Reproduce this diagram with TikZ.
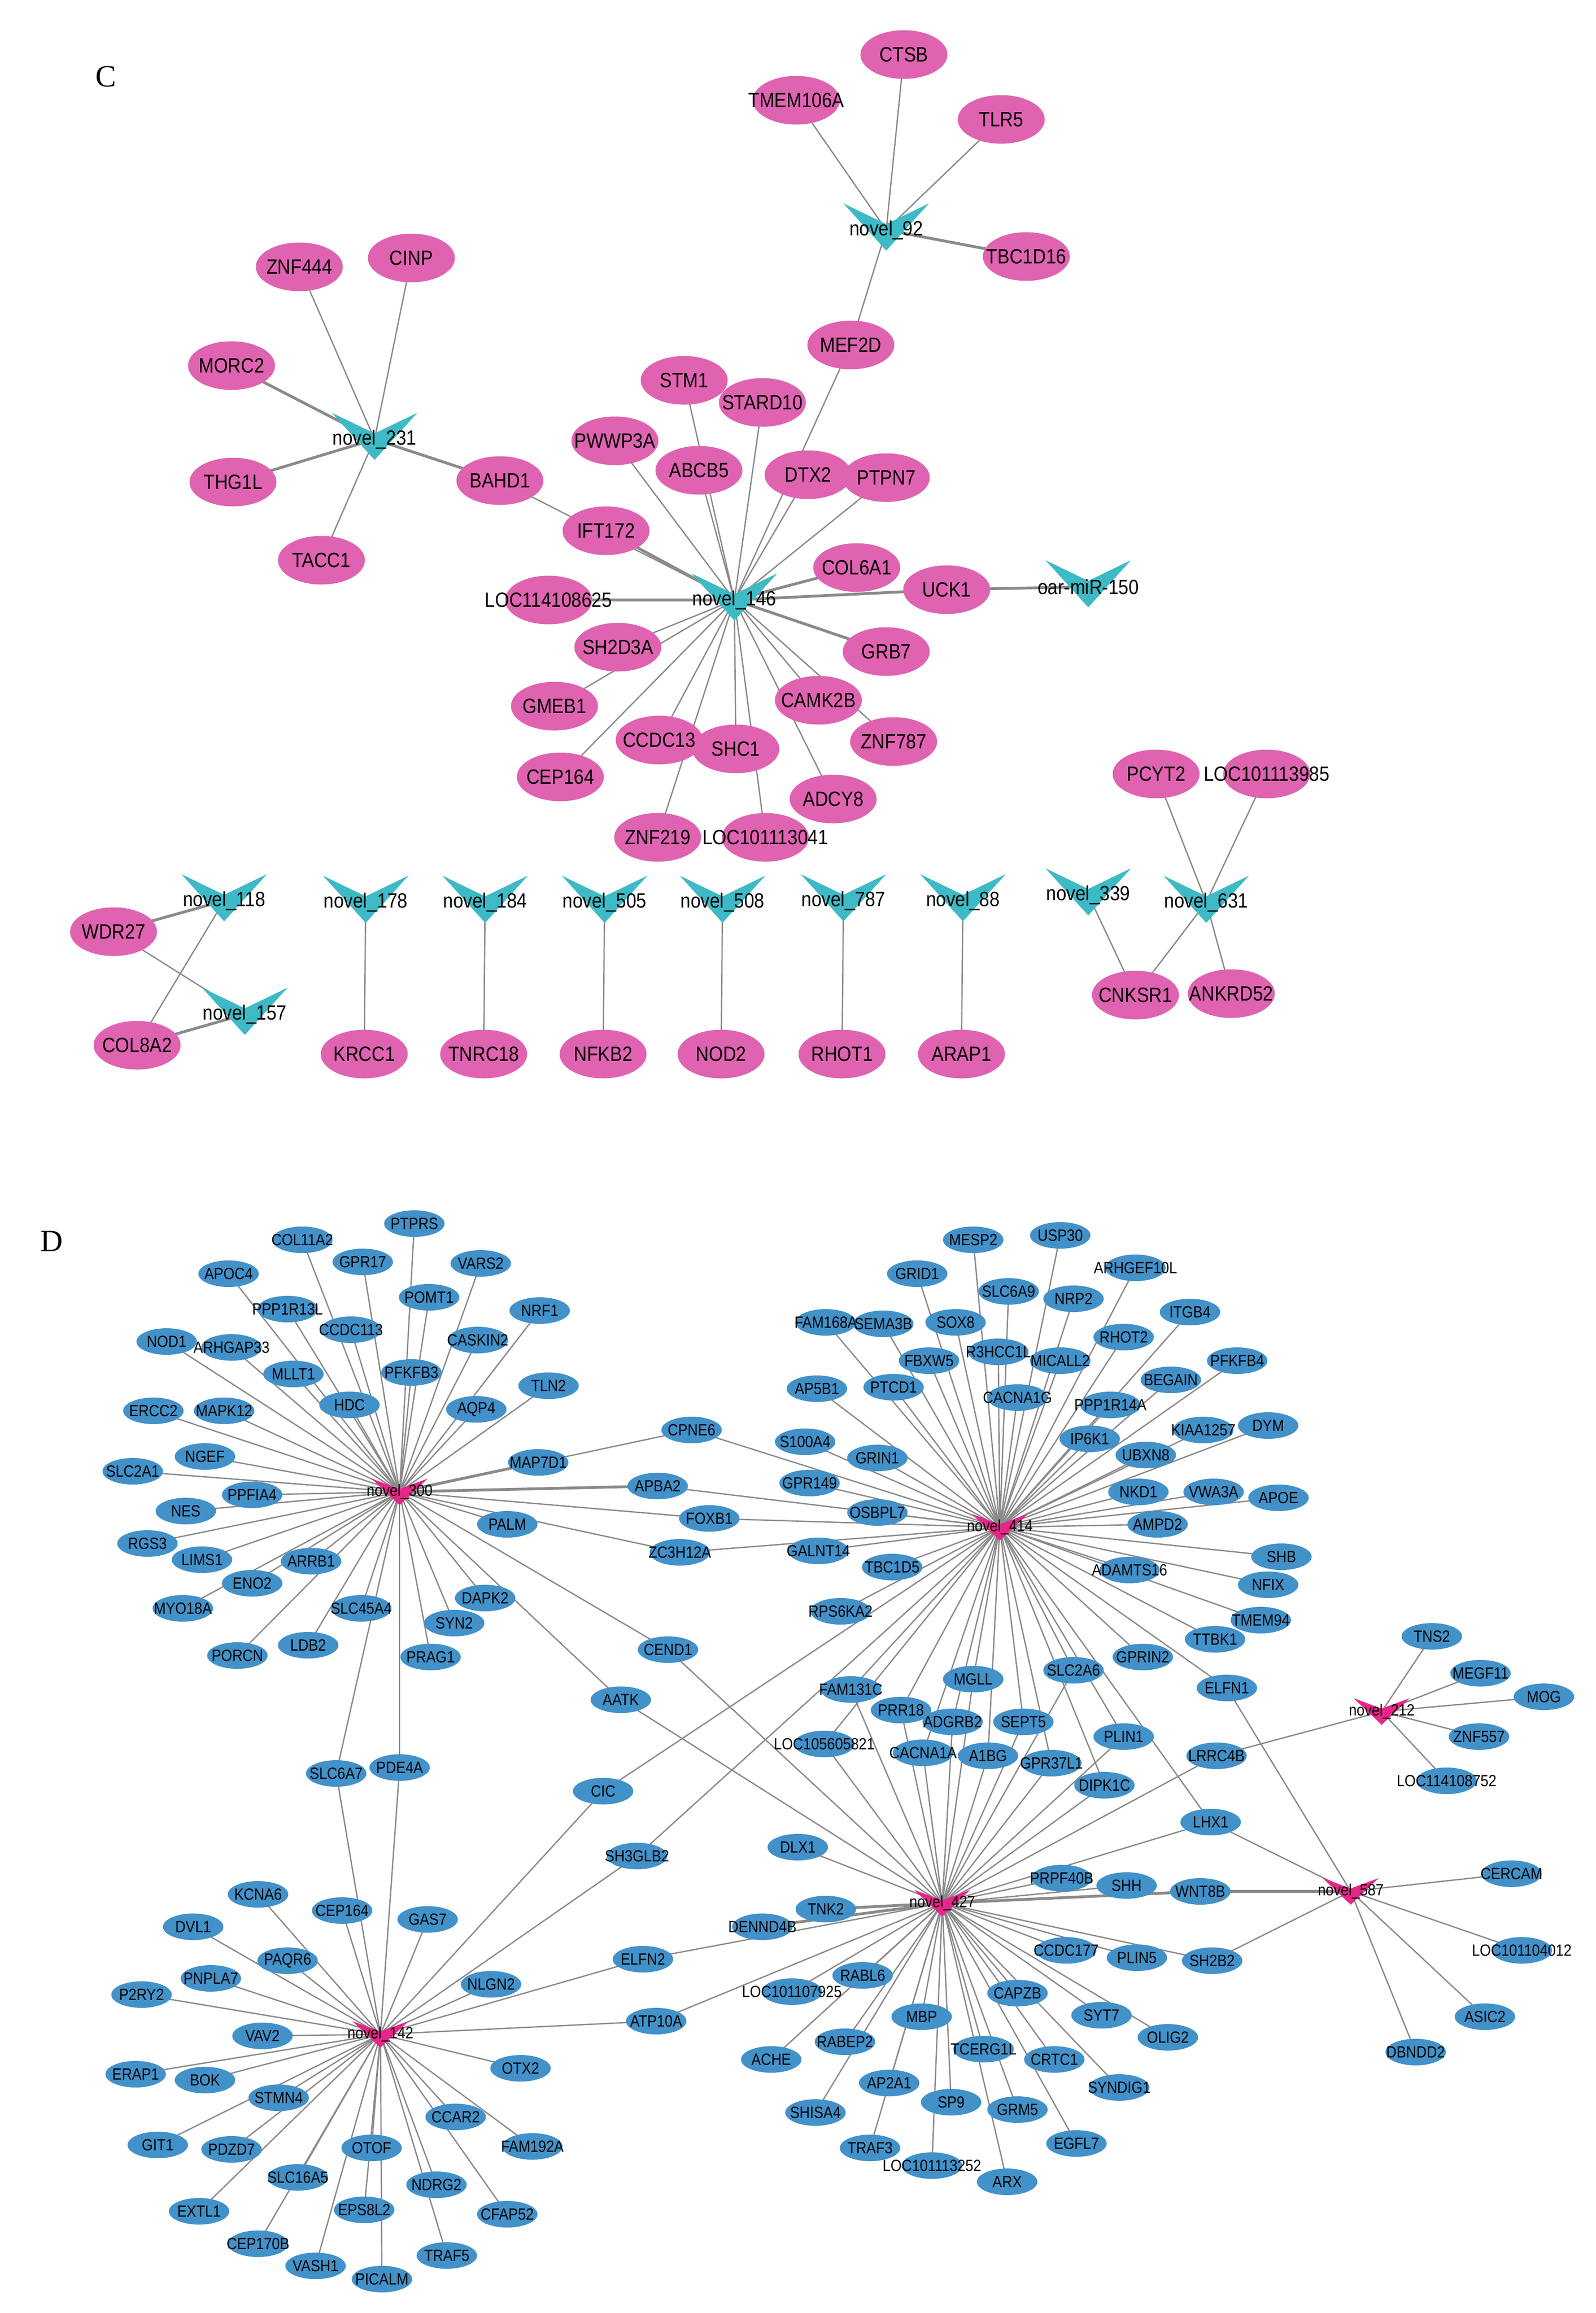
\documentclass[tikz,border=0pt]{standalone}
\usepackage{fontspec}
\newfontfamily\genefont[FakeStretch=0.88]{Liberation Sans}
\newfontfamily\panelfont{Liberation Serif}
\usetikzlibrary{shapes.geometric}
\pgfdeclarelayer{bg}
\pgfsetlayers{bg,main}

\definecolor{pinkC}{RGB}{223,99,176}
\definecolor{cyanC}{RGB}{62,186,198}
\definecolor{blueD}{RGB}{66,145,201}
\definecolor{magD}{RGB}{230,38,137}
\definecolor{edgegray}{RGB}{138,138,138}

\tikzset{
  geneC/.style={ellipse, fill=pinkC, minimum width=59pt, minimum height=33pt, inner sep=0pt},
  geneD/.style={ellipse, fill=blueD, minimum width=41pt, minimum height=18pt, inner sep=0pt},
  textC/.style={font=\genefont\fontsize{14}{14}\selectfont, inner sep=0pt},
  textD/.style={font=\genefont\fontsize{11}{11}\selectfont, inner sep=0pt},
  link/.style={draw=edgegray, line width=0.9pt},
  boldlink/.style={draw=edgegray, line width=1.9pt},
  panel/.style={font=\panelfont\fontsize{21}{21}\selectfont}
}

\def\genesC{ctsb/613/37/CTSB, tmem/540/68/TMEM106A, tlr5/679/81/TLR5, tbc1d16/696/174/TBC1D16,
  mef2d/577/234/MEF2D, znf444/203/181/ZNF444, cinp/279/175/CINP, morc2/157/248/MORC2,
  thg1l/158/327/THG1L, tacc1/218/380/TACC1, bahd1/339/326/BAHD1, stm1/464/258/STM1,
  stard10/517/273/STARD10, pwwp3a/417/299/PWWP3A, abcb5/474/319/ABCB5, dtx2/548/322/DTX2,
  ptpn7/601/324/PTPN7, ift172/411/360/IFT172, col6a1/581/385/COL6A1, uck1/642/400/UCK1,
  loc625/372/407/LOC114108625, sh2d3a/419/439/SH2D3A, grb7/601/442/GRB7, gmeb1/376/479/GMEB1,
  camk2b/555/475/CAMK2B, znf787/606/503/ZNF787, ccdc13/447/502/CCDC13, shc1/499/508/SHC1,
  cep164/380/527/CEP164, adcy8/565/542/ADCY8, znf219/446/568/ZNF219, loc041/519/568/LOC101113041,
  pcyt2/784/525/PCYT2, loc985/859/525/LOC101113985, cnksr1/770/675/CNKSR1, ankrd52/835/674/ANKRD52,
  wdr27/77/632/WDR27, col8a2/93/709/COL8A2, krcc1/247/715/KRCC1, tnrc18/328/715/TNRC18,
  nfkb2/409/715/NFKB2, nod2/489/715/NOD2, rhot1/571/715/RHOT1, arap1/652/715/ARAP1}

\def\hubsC{n92/601/156/novel\_92, n231/254/298/novel\_231, n146/498/407/novel\_146,
  mir150/738/398/oar-miR-150, n118/152/611/novel\_118, n157/166/688/novel\_157,
  n178/248/612/novel\_178, n184/329/612/novel\_184, n505/410/612/novel\_505,
  n508/490/612/novel\_508, n787/572/611/novel\_787, n88/653/611/novel\_88,
  n339/738/607/novel\_339, n631/818/612/novel\_631}

\def\genesD{ptprs/281/830/PTPRS, col11a2/205/841/COL11A2, gpr17/246/856/GPR17, apoc4/155/864/APOC4,
  vars2/326/857/VARS2, pomt1/291/880/POMT1, nrf1/366/889/NRF1, ppp1r13l/195/888/PPP1R13L,
  ccdc113/238/902/CCDC113, nod1/113/910/NOD1, arhgap33/157/914/ARHGAP33, caskin2/324/909/CASKIN2,
  mllt1/199/932/MLLT1, pfkfb3/279/931/PFKFB3, tln2/372/940/TLN2, hdc/237/953/HDC,
  aqp4/323/956/AQP4, ercc2/104/957/ERCC2, mapk12/152/957/MAPK12, ngef/139/988/NGEF,
  map7d1/365/992/MAP7D1, slc2a1/90/998/SLC2A1, ppfia4/171/1014/PPFIA4, nes/126/1025/NES,
  palm/344/1034/PALM, rgs3/100/1047/RGS3, lims1/137/1058/LIMS1, arrb1/211/1059/ARRB1,
  eno2/171/1074/ENO2, dapk2/329/1084/DAPK2, myo18a/124/1091/MYO18A, slc45a4/245/1091/SLC45A4,
  syn2/308/1101/SYN2, ldb2/209/1116/LDB2, porcn/161/1123/PORCN, prag1/292/1124/PRAG1,
  cpne6/469/970/CPNE6, apba2/446/1008/APBA2, foxb1/481/1030/FOXB1, zc3h12a/461/1053/ZC3H12A,
  cend1/453/1119/CEND1, aatk/421/1153/AATK, slc6a7/228/1203/SLC6A7, pde4a/271/1199/PDE4A,
  cic/409/1215/CIC, sh3glb2/432/1259/SH3GLB2, elfn2/436/1329/ELFN2, atp10a/445/1371/ATP10A,
  kcna6/175/1285/KCNA6, cep164b/232/1296/CEP164, gas7/290/1302/GAS7, dvl1/131/1307/DVL1,
  paqr6/195/1330/PAQR6, pnpla7/143/1342/PNPLA7, nlgn2/333/1346/NLGN2, p2ry2/96/1353/P2RY2,
  vav2/178/1381/VAV2, otx2/353/1403/OTX2, erap1/92/1407/ERAP1, bok/139/1411/BOK,
  stmn4/189/1423/STMN4, ccar2/309/1436/CCAR2, fam192a/361/1456/FAM192A, git1/107/1455/GIT1,
  pdzd7/157/1458/PDZD7, otof/252/1457/OTOF, slc16a5/202/1477/SLC16A5, ndrg2/296/1482/NDRG2,
  extl1/135/1500/EXTL1, eps8l2/247/1499/EPS8L2, cfap52/344/1502/CFAP52, cep170b/175/1522/CEP170B,
  traf5/303/1530/TRAF5, vash1/214/1537/VASH1, picalm/259/1546/PICALM,
  mesp2/660/841/MESP2, usp30/719/838/USP30, arhgef10l/770/860/ARHGEF10L, grid1/622/864/GRID1,
  slc6a9/684/876/SLC6A9, nrp2/728/881/NRP2, itgb4/807/890/ITGB4, fam168a/560/897/FAM168A,
  sema3b/599/898/SEMA3B, sox8/648/897/SOX8, rhot2/762/907/RHOT2, fbxw5/630/923/FBXW5,
  r3hcc1l/677/917/R3HCC1L, micall2/719/923/MICALL2, pfkfb4/839/923/PFKFB4, begain/794/936/BEGAIN,
  ap5b1/554/942/AP5B1, ptcd1/606/941/PTCD1, cacna1g/690/948/CACNA1G, ppp1r14a/753/953/PPP1R14A,
  kiaa1257/816/970/KIAA1257, dym/860/967/DYM, ip6k1/739/976/IP6K1, s100a4/546/978/S100A4,
  ubxn8/777/987/UBXN8, grin1/595/989/GRIN1, gpr149/549/1006/GPR149, nkd1/772/1012/NKD1,
  vwa3a/823/1012/VWA3A, apoe/867/1016/APOE, osbpl7/595/1026/OSBPL7, ampd2/785/1034/AMPD2,
  galnt14/555/1052/GALNT14, shb/869/1056/SHB, tbc1d5/605/1063/TBC1D5, adamts16/766/1065/ADAMTS16,
  nfix/860/1075/NFIX, rps6ka2/570/1093/RPS6KA2, tmem94/855/1099/TMEM94, ttbk1/824/1112/TTBK1,
  gprin2/775/1124/GPRIN2, fam131c/577/1146/FAM131C, mgll/660/1139/MGLL, slc2a6/728/1133/SLC2A6,
  prr18/611/1160/PRR18, adgrb2/646/1168/ADGRB2, sept5/694/1168/SEPT5, plin1/762/1178/PLIN1,
  loc821/559/1183/LOC105605821, cacna1a/626/1189/CACNA1A, a1bg/670/1191/A1BG,
  gpr37l1/713/1196/GPR37L1, dipk1c/749/1211/DIPK1C, elfn1/832/1145/ELFN1, lrrc4b/825/1191/LRRC4B,
  lhx1/821/1236/LHX1, dlx1/541/1253/DLX1, prpf40b/720/1274/PRPF40B, shh/764/1279/SHH,
  wnt8b/814/1283/WNT8B, tnk2/560/1295/TNK2, dennd4b/517/1307/DENND4B, ccdc177/723/1323/CCDC177,
  plin5/771/1328/PLIN5, sh2b2/822/1330/SH2B2, rabl6/585/1340/RABL6, loc925/537/1351/LOC101107925,
  capzb/690/1352/CAPZB, syt7/747/1367/SYT7, mbp/625/1368/MBP, olig2/792/1382/OLIG2,
  rabep2/573/1385/RABEP2, tcerg1l/667/1390/TCERG1L, ache/523/1397/ACHE, crtc1/715/1397/CRTC1,
  ap2a1/603/1413/AP2A1, syndig1/759/1416/SYNDIG1, sp9/645/1426/SP9, grm5/690/1431/GRM5,
  shisa4/553/1433/SHISA4, egfl7/730/1454/EGFL7, traf3/590/1457/TRAF3, loc252/632/1469/LOC101113252,
  arx/683/1480/ARX, tns2/971/1110/TNS2, megf11/1004/1135/MEGF11, mog/1047/1151/MOG,
  znf557/1003/1178/ZNF557, loc752/981/1208/LOC114108752, cercam/1025/1271/CERCAM,
  loc012/1032/1323/LOC101104012, asic2/1007/1368/ASIC2, dbndd2/960/1392/DBNDD2}

\def\hubsD{d300/271/1012/novel\_300, d414/678/1036/novel\_414, d427/639/1291/novel\_427,
  d142/258/1380/novel\_142, d212/937/1161/novel\_212, d587/916/1283/novel\_587}

\begin{document}
\begin{tikzpicture}[x=1pt, y=-1pt]
  \useasboundingbox (0,0) rectangle (1082.3,1569);
  \node[panel] (labC) at (72,52) {C};
  \node[panel] (labD) at (35,842) {D};

  \foreach \nm/\x/\y/\lbl in \genesC
    \node[geneC] (\nm) at (\x,\y) {};
  \foreach \nm/\x/\y/\lbl in \hubsC {
    \fill[cyanC] (\x-29,\y-18) -- (\x,\y-4) -- (\x+29,\y-18) -- (\x,\y+14) -- cycle;
    \node[textC] (\nm) at (\x,\y) {\lbl};
  }
  \foreach \nm/\x/\y/\lbl in \genesC
    \node[textC] at (\nm) {\lbl};

  \foreach \nm/\x/\y/\lbl in \genesD
    \node[geneD] (\nm) at (\x,\y) {};
  \foreach \nm/\x/\y/\lbl in \hubsD {
    \fill[magD] (\x-19,\y-9) -- (\x,\y-2) -- (\x+19,\y-9) -- (\x,\y+9) -- cycle;
    \node[textD] (\nm) at (\x,\y) {\lbl};
  }
  \foreach \nm/\x/\y/\lbl in \genesD
    \node[textD] at (\nm) {\lbl};

  \begin{pgfonlayer}{bg}
    \foreach \g in {ctsb,tmem,tlr5,mef2d}
      \draw[link] (n92.center) -- (\g.center);
    \draw[boldlink] (n92.center) -- (tbc1d16.center);
    \foreach \g in {znf444,cinp,tacc1}
      \draw[link] (n231.center) -- (\g.center);
    \foreach \g in {morc2,thg1l,bahd1}
      \draw[boldlink] (n231.center) -- (\g.center);
    \foreach \g in {mef2d,stm1,stard10,pwwp3a,abcb5,dtx2,ptpn7,bahd1,gmeb1,camk2b,znf787,
      ccdc13,shc1,cep164,adcy8,znf219,loc041,sh2d3a}
      \draw[link] (n146.center) -- (\g.center);
    \foreach \g in {ift172,col6a1,uck1,loc625,grb7}
      \draw[boldlink] (n146.center) -- (\g.center);
    \draw[boldlink] (uck1.center) -- (mir150.center);
    \foreach \g in {pcyt2,loc985,cnksr1,ankrd52}
      \draw[link] (n631.center) -- (\g.center);
    \draw[link] (n339.center) -- (cnksr1.center);
    \draw[boldlink] (n118.center) -- (wdr27.center);
    \draw[link] (n118.center) -- (col8a2.center);
    \draw[link] (n157.center) -- (wdr27.center);
    \draw[boldlink] (n157.center) -- (col8a2.center);
    \foreach \h/\g in {n178/krcc1,n184/tnrc18,n505/nfkb2,n508/nod2,n787/rhot1,n88/arap1}
      \draw[link] (\h.center) -- (\g.center);

    \foreach \g in {ptprs,col11a2,gpr17,apoc4,vars2,pomt1,nrf1,ppp1r13l,ccdc113,nod1,arhgap33,
      caskin2,mllt1,pfkfb3,tln2,hdc,aqp4,ercc2,mapk12,ngef,slc2a1,ppfia4,nes,palm,rgs3,
      lims1,arrb1,eno2,dapk2,myo18a,slc45a4,syn2,ldb2,porcn,prag1,cpne6,foxb1,zc3h12a,
      cend1,aatk,slc6a7,pde4a}
      \draw[link] (d300.center) -- (\g.center);
    \foreach \g in {map7d1,apba2}
      \draw[boldlink] (d300.center) -- (\g.center);
    \foreach \g in {mesp2,usp30,arhgef10l,grid1,slc6a9,nrp2,itgb4,fam168a,sema3b,sox8,rhot2,
      fbxw5,r3hcc1l,micall2,pfkfb4,begain,ap5b1,ptcd1,cacna1g,ppp1r14a,kiaa1257,dym,ip6k1,
      s100a4,ubxn8,grin1,gpr149,nkd1,vwa3a,apoe,osbpl7,ampd2,galnt14,shb,tbc1d5,adamts16,
      nfix,rps6ka2,tmem94,ttbk1,gprin2,cpne6,apba2,foxb1,zc3h12a,cic,sh3glb2,elfn1,lhx1,
      fam131c,mgll,slc2a6,prr18,adgrb2,sept5,plin1,loc821,cacna1a,a1bg,gpr37l1,dipk1c}
      \draw[link] (d414.center) -- (\g.center);
    \foreach \g in {fam131c,mgll,slc2a6,prr18,adgrb2,sept5,plin1,loc821,cacna1a,a1bg,gpr37l1,
      dipk1c,lrrc4b,lhx1,dlx1,prpf40b,shh,ccdc177,plin5,sh2b2,rabl6,loc925,capzb,syt7,mbp,
      olig2,rabep2,tcerg1l,ache,crtc1,ap2a1,syndig1,sp9,grm5,shisa4,egfl7,traf3,loc252,arx,
      cend1,aatk,elfn2,atp10a}
      \draw[link] (d427.center) -- (\g.center);
    \foreach \g in {wnt8b,tnk2,dennd4b}
      \draw[boldlink] (d427.center) -- (\g.center);
    \foreach \g in {kcna6,cep164b,gas7,dvl1,paqr6,pnpla7,nlgn2,p2ry2,vav2,otx2,erap1,bok,stmn4,
      ccar2,fam192a,git1,pdzd7,otof,slc16a5,ndrg2,extl1,eps8l2,cfap52,cep170b,traf5,vash1,
      picalm,slc6a7,pde4a,cic,sh3glb2,elfn2,atp10a}
      \draw[link] (d142.center) -- (\g.center);
    \foreach \g in {tns2,megf11,mog,znf557,loc752,lrrc4b}
      \draw[link] (d212.center) -- (\g.center);
    \foreach \g in {lhx1,sh2b2,elfn1,cercam,loc012,asic2,dbndd2}
      \draw[link] (d587.center) -- (\g.center);
    \draw[boldlink] (d587.center) -- (wnt8b.center);
  \end{pgfonlayer}
\end{tikzpicture}
\end{document}
